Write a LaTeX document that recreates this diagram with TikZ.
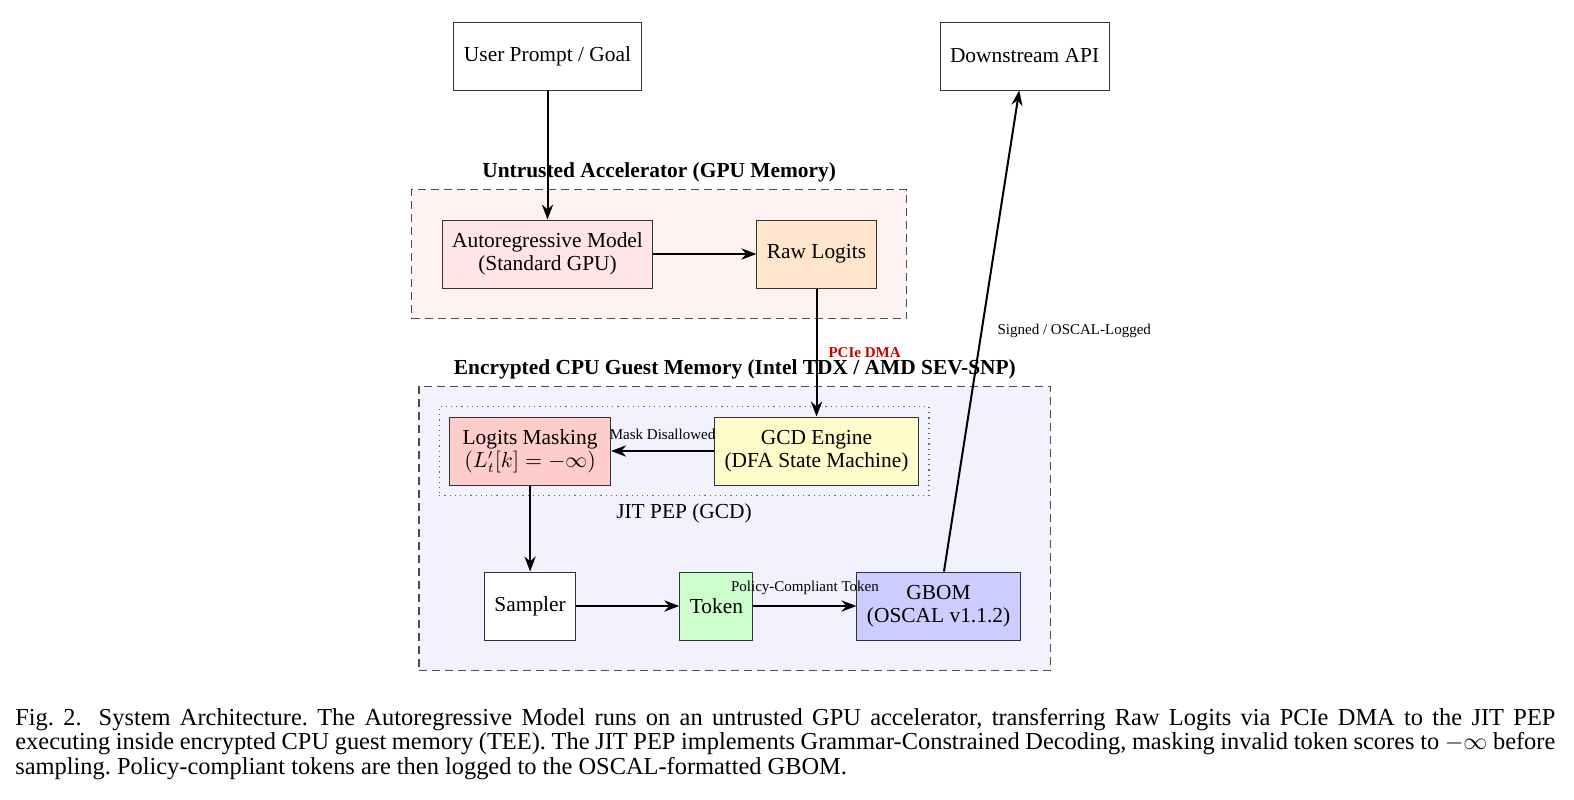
\documentclass[tikz,border=0pt]{standalone}
\usepackage{fontspec}
\setmainfont{Liberation Serif}
\usetikzlibrary{arrows.meta, positioning, fit, backgrounds}
\tikzset{
  box/.style = {rectangle, draw=black!80, fill=white, line width=0.5pt, align=center, minimum height=34pt, inner xsep=5pt, font=\fontsize{10.7}{11.5}\selectfont},
  line/.style = {-{Stealth}, line width=1pt},
  lbl/.style = {font=\fontsize{7.5}{9}\selectfont, inner sep=2.5pt},
  zone/.style = {draw=black!70, line width=0.7pt, dash pattern=on 4pt off 2.5pt, inner sep=15pt, label distance=3pt},
  pepzone/.style = {draw=black!60, dotted, line width=0.6pt, inner sep=5pt, label distance=3.5pt},
  zonetitle/.style = {font=\fontsize{10.7}{12}\selectfont\bfseries},
  captext/.style = {text width=770pt, align=justify, inner sep=0pt, font=\fontsize{12.2}{11}\selectfont\frenchspacing}
}

\begin{document}
\begin{tikzpicture}[node distance=51.5pt and 51.5pt]
\useasboundingbox (0,0) rectangle (787pt,-399.5pt);
\node[box] (user) at (273.75pt,-28pt) {User Prompt / Goal};
\node[box, right=149pt of user] (api) {Downstream API};
\node[box, fill=red!10, below=64.5pt of user] (auto) {Autoregressive Model\\(Standard GPU)};
\node[box, fill=orange!20, right=of auto] (raw) {Raw Logits};
\node[box, fill=yellow!20, below=64pt of raw] (gcd) {GCD Engine\\(DFA State Machine)};
\node[box, fill=red!20, minimum width=80.5pt, left=of gcd] (mask) {Logits Masking\\$(L'_t[k]=-\infty)$};
\node[box, below=43pt of mask] (sampler) {Sampler};
\node[box, fill=green!20, right=of sampler] (token) {Token};
\node[box, fill=blue!20, right=of token] (gbom) {GBOM\\(OSCAL v1.1.2)};

\begin{scope}[on background layer]
\node[zone, fill=red!5, fit=(auto)(raw), label={[zonetitle]above:Untrusted Accelerator (GPU Memory)}] (gpu) {};
\node[zone, fill=blue!5, fit=(mask)(gcd)(sampler)(gbom), label={[zonetitle]above:Encrypted CPU Guest Memory (Intel TDX / AMD SEV-SNP)}] (tee) {};
\node[pepzone, fit=(mask)(gcd), label={[font=\fontsize{10.7}{12}\selectfont]below:JIT PEP (GCD)}] (pep) {};
\end{scope}

\draw[line] (user) -- (auto);
\draw[line] (auto) -- (raw);
\draw[line] (raw) -- node[lbl, right=3pt, text=red!80!black, font=\fontsize{7.5}{9}\selectfont\bfseries] {PCIe DMA} (gcd);
\draw[line] (gcd) -- node[lbl, above=2.5pt] {Mask Disallowed} (mask);
\draw[line] (mask) -- (sampler);
\draw[line] (sampler) -- (token);
\draw[line] (token) -- node[lbl, above=2.5pt] {Policy-Compliant Token} (gbom);
\draw[line] (gbom) -- node[lbl, right=5pt] {Signed / OSCAL-Logged} (api);

\node[captext, anchor=north west] (caption) at (7.5pt,-353.8pt) {Fig.~2.\hspace{0.7em}System Architecture. The Autoregressive Model runs on an untrusted GPU accelerator, transferring Raw Logits via PCIe DMA to the JIT PEP\linebreak executing inside encrypted CPU guest memory (TEE). The JIT PEP implements Grammar-Constrained Decoding, masking invalid token scores to $-\infty$ before\linebreak sampling. Policy-compliant tokens are then logged to the OSCAL-formatted GBOM.};
\end{tikzpicture}
\end{document}
